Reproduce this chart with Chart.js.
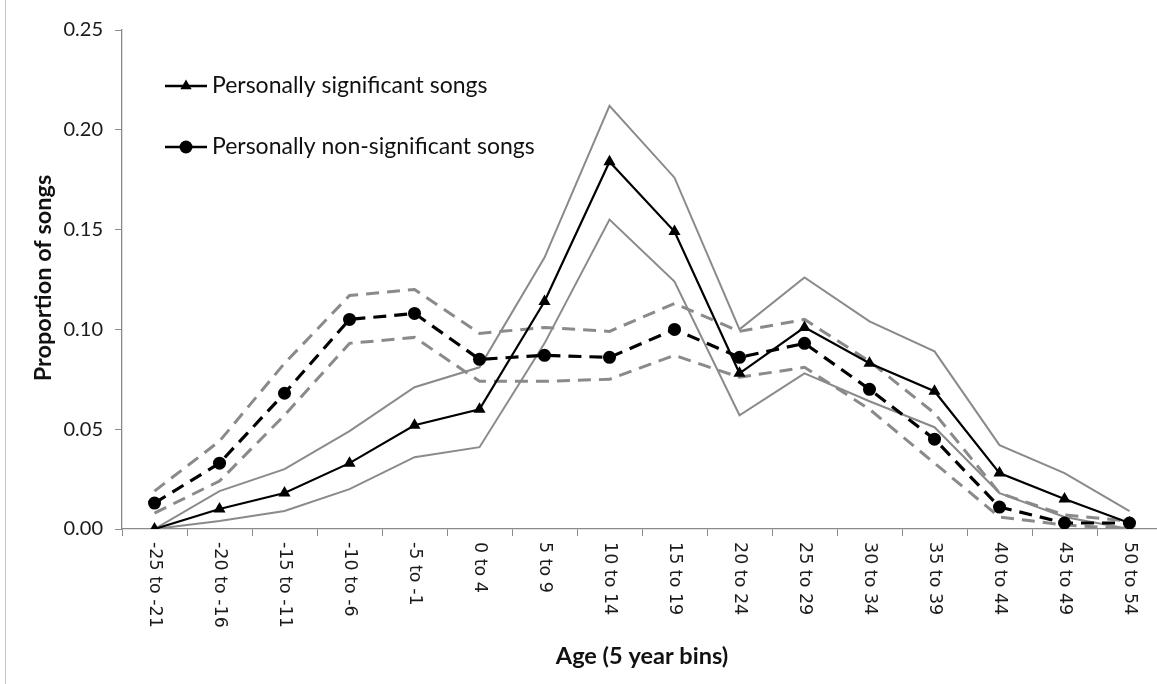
<!DOCTYPE html>
<html>
<head>
<meta charset="utf-8">
<script src="https://cdn.jsdelivr.net/npm/chart.js@4.4.1/dist/chart.umd.min.js"></script>
<style>
  html, body { margin: 0; padding: 0; background: #fff; overflow: hidden; width: 1157px; height: 684px; }
  #wrap { position: absolute; left: 0; top: 0; width: 1170px; height: 684px; }
  #frame { position: absolute; left: 5px; top: 0; width: 1px; height: 684px; background: #c4c4c4; }
</style>
</head>
<body>
<div id="frame"></div>
<div id="wrap"><canvas id="c" width="1170" height="684"></canvas></div>
<script>
const categories = ['-25 to -21', '-20 to -16', '-15 to -11', '-10 to -6', '-5 to -1', '0 to 4', '5 to 9', '10 to 14', '15 to 19', '20 to 24', '25 to 29', '30 to 34', '35 to 39', '40 to 44', '45 to 49', '50 to 54'];
const sigMean  = [0.000, 0.010, 0.018, 0.033, 0.052, 0.060, 0.114, 0.184, 0.149, 0.078, 0.101, 0.083, 0.069, 0.028, 0.015, 0.003];
const sigUpper = [0.000, 0.019, 0.030, 0.049, 0.071, 0.081, 0.136, 0.212, 0.176, 0.100, 0.126, 0.104, 0.089, 0.042, 0.028, 0.009];
const sigLower = [0.000, 0.004, 0.009, 0.020, 0.036, 0.041, 0.093, 0.155, 0.124, 0.057, 0.078, 0.064, 0.051, 0.018, 0.006, 0.000];
const nonMean  = [0.013, 0.033, 0.068, 0.105, 0.108, 0.085, 0.087, 0.086, 0.100, 0.086, 0.093, 0.070, 0.045, 0.011, 0.003, 0.003];
const nonUpper = [0.019, 0.044, 0.083, 0.117, 0.120, 0.098, 0.101, 0.099, 0.113, 0.099, 0.105, 0.084, 0.058, 0.018, 0.007, 0.004];
const nonLower = [0.008, 0.024, 0.057, 0.093, 0.096, 0.074, 0.074, 0.075, 0.087, 0.076, 0.081, 0.060, 0.033, 0.006, 0.002, 0.000];
const yTicks = [0, 0.05, 0.10, 0.15, 0.20, 0.25];
const seriesNames = ['Personally significant songs', 'Personally non-significant songs'];
const xTitle = 'Age (5 year bins)';
const yTitle = 'Proportion of songs';

const BLACK = '#000000';
const GRAY = '#8a8a8a';

const customPlugin = {
  id: 'customDraw',
  afterDraw(chart) {
    const ctx = chart.ctx;
    const xs = chart.scales.x;
    ctx.save();
    // x tick labels, rotated clockwise
    ctx.fillStyle = '#1a1a1a';
    ctx.font = '17.5px "DejaVu Sans"';
    ctx.textAlign = 'left';
    ctx.textBaseline = 'middle';
    categories.forEach((c, i) => {
      const px = xs.getPixelForValue(i);
      ctx.save();
      ctx.translate(px, 542);
      ctx.rotate(Math.PI / 2);
      ctx.fillText(c, 0, 0);
      ctx.restore();
    });
    // axis titles
    ctx.fillStyle = '#111';
    ctx.font = 'bold 23.5px Lato';
    ctx.textAlign = 'center';
    ctx.fillText(xTitle, (xs.left + xs.right) / 2, 656);
    ctx.save();
    ctx.translate(43, 278);
    ctx.rotate(-Math.PI / 2);
    ctx.fillText(yTitle, 0, 0);
    ctx.restore();
    // legend
    const items = [
      { y: 86, style: 'triangle', r: 6.5 },
      { y: 147, style: 'circle', r: 6.5 }
    ];
    items.forEach((it, k) => {
      ctx.strokeStyle = BLACK;
      ctx.lineWidth = 2.5;
      ctx.setLineDash([]);
      ctx.beginPath();
      ctx.moveTo(165, it.y);
      ctx.lineTo(207, it.y);
      ctx.stroke();
      ctx.fillStyle = BLACK;
      Chart.helpers.drawPoint(ctx, { pointStyle: it.style, radius: it.r, borderWidth: 0 }, 186, it.y);
      ctx.fillStyle = '#111';
      ctx.font = '23px Lato';
      ctx.textAlign = 'left';
      ctx.textBaseline = 'middle';
      ctx.fillText(seriesNames[k], 212, it.y);
    });
    ctx.restore();
  }
};

const mk = (label, data, color, width, dash, pointStyle, radius) => ({
  label, data,
  borderColor: color, backgroundColor: color,
  borderWidth: width, borderDash: dash,
  pointStyle: pointStyle || 'circle',
  pointRadius: radius || 0, pointHoverRadius: radius || 0,
  pointBorderWidth: 0, pointBackgroundColor: color,
  tension: 0, fill: false
});

new Chart(document.getElementById('c'), {
  type: 'line',
  data: {
    labels: categories,
    datasets: [
      mk(seriesNames[0], sigMean, BLACK, 2.2, [], 'triangle', 7),
      mk(seriesNames[1], nonMean, BLACK, 3.2, [13, 8], 'circle', 6.5),
      mk('sig upper', sigUpper, GRAY, 2, []),
      mk('sig lower', sigLower, GRAY, 2, []),
      mk('non upper', nonUpper, GRAY, 3, [13, 8]),
      mk('non lower', nonLower, GRAY, 3, [13, 8])
    ]
  },
  options: {
    responsive: false,
    devicePixelRatio: 1,
    animation: false,
    layout: { padding: { left: 0, top: 30, right: 8, bottom: 0 } },
    plugins: { legend: { display: false }, tooltip: { enabled: false } },
    scales: {
      x: {
        type: 'category',
        offset: true,
        grid: { display: true, drawOnChartArea: false, drawTicks: true, tickLength: 7, color: '#8a8a8a', offset: true },
        border: { display: true, color: '#8a8a8a', width: 1.3 },
        ticks: { display: false },
        afterFit(scale) { scale.height = 155; }
      },
      y: {
        min: 0, max: 0.25,
        afterBuildTicks(scale) { scale.ticks = yTicks.map(v => ({ value: v })); },
        grid: { display: true, drawOnChartArea: false, drawTicks: true, tickLength: 7, color: '#8a8a8a' },
        border: { display: true, color: '#8a8a8a', width: 1.3 },
        ticks: {
          color: '#1a1a1a', padding: 12,
          font: { family: 'Lato', size: 20 },
          callback: v => Number(v).toFixed(2)
        },
        afterFit(scale) { scale.width = 122; }
      }
    }
  },
  plugins: [customPlugin]
});
</script>
</body>
</html>
